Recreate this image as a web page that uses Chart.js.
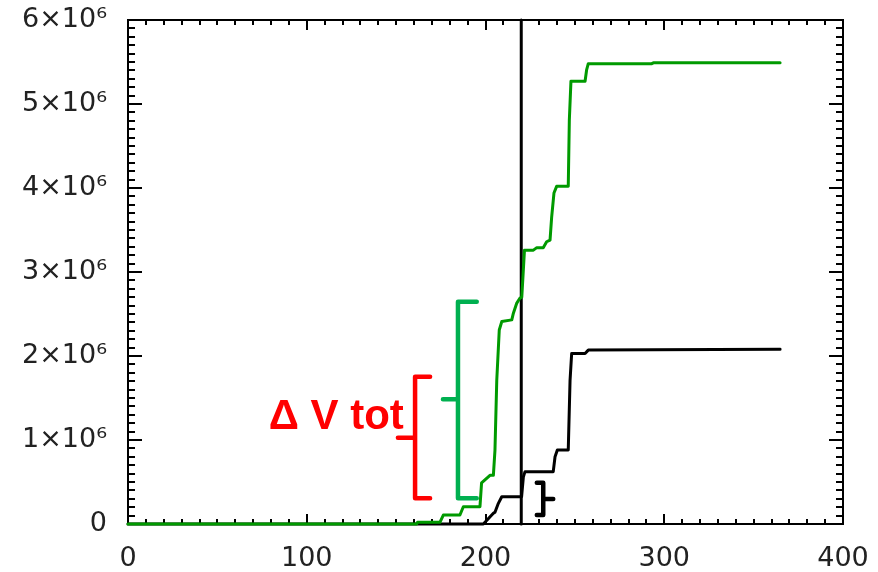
<!DOCTYPE html>
<html>
<head>
<meta charset="utf-8">
<script src="https://cdn.jsdelivr.net/npm/chart.js@4.4.1/dist/chart.umd.min.js"></script>
<style>
    html, body { margin: 0; padding: 0; background: #ffffff; }
    #wrap { width: 878px; height: 572px; position: relative; }
</style>
</head>
<body>
<div id="wrap"><canvas id="VolumeChart"></canvas></div>
<script>
"use strict";

// cumulative volume, green series (day, volume)
const greenDay = [0, 161.5, 162, 174.5, 176.4, 185.7, 187.6, 196.9, 197.8, 202.5, 204.4, 205.3, 206.3, 207.7, 209.1,
    214.7, 215.6, 217.5, 219.3, 220.3, 221.8, 226.8, 228.7, 232.3, 234.2, 236.1, 237.0, 238.3, 239.8, 246.3, 246.9,
    247.8, 255.7, 256.6, 257.5, 293.0, 293.9, 364.8];
const greenVol = [0, 0, 0.02e6, 0.02e6, 0.107e6, 0.107e6, 0.206e6, 0.206e6, 0.49e6, 0.58e6, 0.58e6, 0.88e6, 1.71e6,
    2.31e6, 2.41e6, 2.43e6, 2.51e6, 2.63e6, 2.69e6, 2.7e6, 3.26e6, 3.26e6, 3.29e6, 3.29e6, 3.36e6, 3.38e6, 3.65e6,
    3.94e6, 4.02e6, 4.02e6, 4.81e6, 5.27e6, 5.27e6, 5.41e6, 5.48e6, 5.48e6, 5.49e6, 5.49e6];

// cumulative volume, black series
const blackDay = [0, 198.8, 204.4, 205.3, 207.2, 209.1, 220.2, 221.2, 222.1, 237.9, 238.9, 240.2, 246.3, 247.3,
    248.2, 255.7, 257.5, 364.8];
const blackVol = [0, 0, 0.127e6, 0.14e6, 0.246e6, 0.325e6, 0.325e6, 0.563e6, 0.623e6, 0.623e6, 0.80e6, 0.881e6,
    0.881e6, 1.71e6, 2.03e6, 2.03e6, 2.07e6, 2.08e6];

// reference day (vertical line)
const markerDay = 220;

// brackets (null volume = pen up)
const greenBracketDay = [195.1, 184.6, 184.6, 195.1, 195.1, 176.2, 184.6];
const greenBracketVol = [2.646e6, 2.646e6, 0.306e6, 0.306e6, null, 1.485e6, 1.485e6];
const redBracketDay = [169, 160.6, 160.6, 169, 169, 151, 160.6];
const redBracketVol = [1.754e6, 1.754e6, 0.306e6, 0.306e6, null, 1.026e6, 1.026e6];
const blackBraceDay = [228.7, 232.3, 232.3, 228.7, 228.7, 232.3, 237.9];
const blackBraceVol = [0.49e6, 0.49e6, 0.107e6, 0.107e6, null, 0.298e6, 0.298e6];

const labelText = "\u0394 V tot";
const labelDay = 116.5;
const labelVol = 1.27e6;

function toPoints(xs, ys) {
    let pts = [];
    for (let i = 0; i < xs.length; i++) {
        pts.push({x: xs[i], y: ys[i]});
    }
    return pts;
}

function lineSet(xs, ys, color, width) {
    return {
        data: toPoints(xs, ys),
        borderColor: color,
        borderWidth: width,
        pointRadius: 0,
        fill: false,
        tension: 0,
        clip: false,
        borderCapStyle: "round",
        borderJoinStyle: "round"
    };
}

// frame with inward major/minor ticks on all four sides
const frameTicks = {
    id: "frameTicks",
    beforeDatasetsDraw(chart) {
        const ctx = chart.ctx;
        const a = chart.chartArea;
        const x = chart.scales.x;
        const y = chart.scales.y;
        ctx.save();
        ctx.strokeStyle = "#000000";
        ctx.lineWidth = 2;
        ctx.strokeRect(a.left, a.top, a.right - a.left, a.bottom - a.top);
        ctx.beginPath();
        for (let v = x.min; v <= x.max; v += 10) {
            const px = Math.round(x.getPixelForValue(v));
            const len = v % 100 === 0 ? 10 : 5;
            ctx.moveTo(px, a.bottom); ctx.lineTo(px, a.bottom - len);
            ctx.moveTo(px, a.top); ctx.lineTo(px, a.top + len);
        }
        for (let v = y.min; v <= y.max; v += 1e5) {
            const py = Math.round(y.getPixelForValue(v));
            const len = Math.round(v) % 1e6 === 0 ? 14 : 7;
            ctx.moveTo(a.left, py); ctx.lineTo(a.left + len, py);
            ctx.moveTo(a.right, py); ctx.lineTo(a.right - len, py);
        }
        ctx.stroke();
        ctx.restore();
    },
    afterDatasetsDraw(chart) {
        const ctx = chart.ctx;
        ctx.save();
        ctx.fillStyle = "#ff0000";
        ctx.font = "bold 42px 'Liberation Sans', Arial, sans-serif";
        ctx.textAlign = "center";
        ctx.textBaseline = "middle";
        ctx.fillText(labelText, chart.scales.x.getPixelForValue(labelDay), chart.scales.y.getPixelForValue(labelVol));
        ctx.restore();
    }
};

const tickFont = {family: "'DejaVu Sans', sans-serif", size: 27};

let volume_chart = new Chart(document.getElementById("VolumeChart"), {
    type: "line",
    data: {
        datasets: [
            lineSet(greenDay, greenVol, "#009a00", 3),
            lineSet(blackDay, blackVol, "#000000", 3),
            lineSet([markerDay, markerDay], [0, 6e6], "#000000", 3),
            lineSet(greenBracketDay, greenBracketVol, "#00b050", 4.5),
            lineSet(redBracketDay, redBracketVol, "#ff0000", 4.5),
            lineSet(blackBraceDay, blackBraceVol, "#000000", 4.5)
        ]
    },
    options: {
        responsive: true,
        maintainAspectRatio: false,
        devicePixelRatio: 1,
        animation: false,
        layout: {
            padding: {left: 0, right: 35, top: 20, bottom: 0}
        },
        plugins: {
            legend: {display: false},
            tooltip: {enabled: false}
        },
        scales: {
            x: {
                type: "linear",
                min: 0,
                max: 400,
                grid: {display: false},
                border: {display: false},
                ticks: {
                    stepSize: 100,
                    autoSkip: false,
                    maxRotation: 0,
                    padding: 11,
                    color: "#222222",
                    font: tickFont
                },
                afterFit: function (scale) {
                    scale.height = 48;
                    scale.paddingLeft = 0;
                    scale.paddingRight = 0;
                }
            },
            y: {
                type: "linear",
                min: 0,
                max: 6e6,
                grid: {display: false},
                border: {display: false},
                ticks: {
                    stepSize: 1e6,
                    autoSkip: false,
                    padding: 13,
                    color: "#222222",
                    font: tickFont,
                    callback: function (v) {
                        if (v === 0) {
                            return "0";
                        }
                        return Math.round(v / 1e6) + "\u00d710\u2076";
                    }
                },
                afterFit: function (scale) {
                    scale.width = 128;
                    scale.paddingTop = 0;
                    scale.paddingBottom = 0;
                }
            }
        }
    },
    plugins: [frameTicks]
});
</script>
</body>
</html>
